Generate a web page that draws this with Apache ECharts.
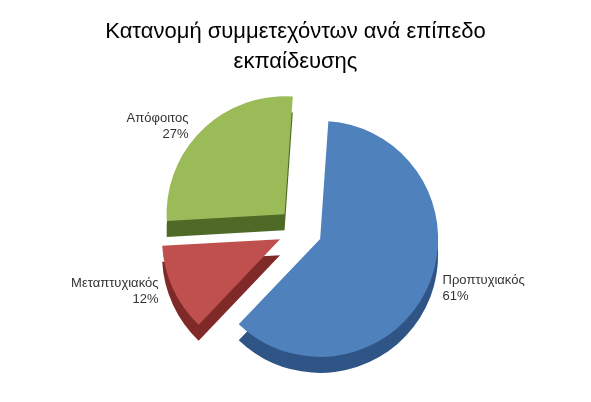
<!DOCTYPE html>
<html>
<head>
<meta charset="utf-8">
<script src="https://cdn.jsdelivr.net/npm/echarts@6/dist/echarts.min.js"></script>
<style>html,body{margin:0;padding:0;background:#fff}#chart{width:591px;height:402px}</style>
</head>
<body>
<div id="chart"></div>
<script>
var categories = ['Προπτυχιακός', 'Μεταπτυχιακός', 'Απόφοιτος'];
var values = [61, 12, 27];
var topColors = ['#4f81bd', '#c0504d', '#9bbb59'];
var sideColors = ['#2f5486', '#7f2a28', '#4f6a26'];

var chart = echarts.init(document.getElementById('chart'));

function sliceData(colors, withLabel) {
    return categories.map(function (name, i) {
        return {
            name: name,
            value: values[i],
            selected: true,
            itemStyle: { color: colors[i] }
        };
    });
}

var base = {
    type: 'pie',
    radius: 118,
    startAngle: 86,
    selectedMode: 'multiple',
    selectedOffset: 22,
    animation: false,
    emphasis: { disabled: true }
};

chart.setOption({
    title: {
        text: 'Κατανομή συμμετεχόντων ανά επίπεδο\nεκπαίδευσης',
        left: 'center',
        top: 12,
        textStyle: { fontFamily: 'Liberation Sans', fontSize: 22, fontWeight: 'normal', color: '#000', lineHeight: 30 }
    },
    series: [
        Object.assign({}, base, {
            center: [300, 246],
            z: 1,
            label: { show: false },
            labelLine: { show: false },
            data: sliceData(sideColors)
        }),
        Object.assign({}, base, {
            center: [300, 230],
            z: 2,
            label: {
                show: true,
                position: 'outside',
                formatter: '{b}\n{d}%',
                fontFamily: 'Liberation Sans',
                fontSize: 13,
                color: '#333',
                lineHeight: 16
            },
            labelLine: { show: false, length: 6, length2: 4 },
            data: sliceData(topColors)
        })
    ]
});
</script>
</body>
</html>
